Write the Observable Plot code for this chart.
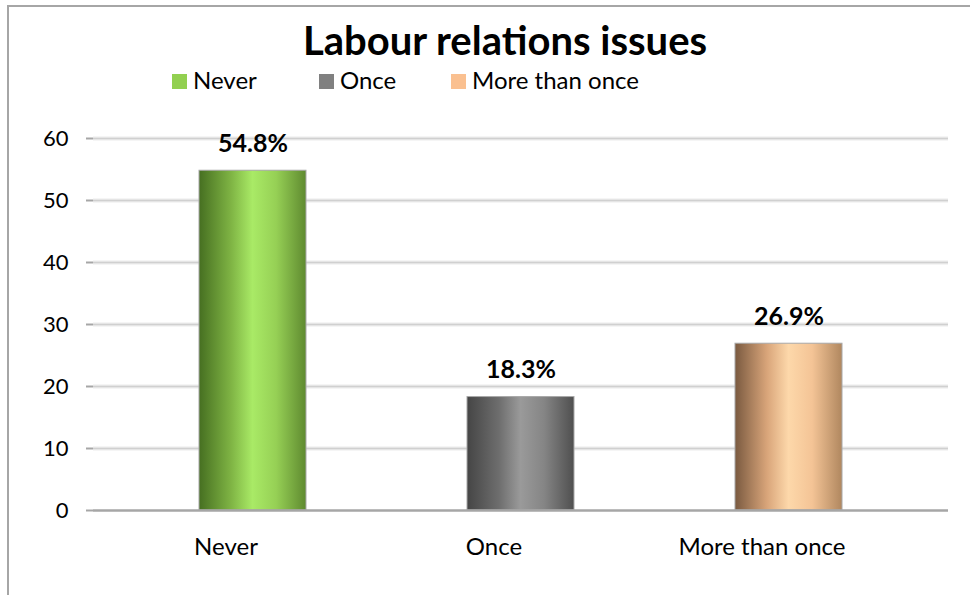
<!DOCTYPE html>
<html>
<head>
<meta charset="utf-8">
<script src="https://cdn.jsdelivr.net/npm/d3@7"></script>
<script src="https://cdn.jsdelivr.net/npm/@observablehq/plot@0.6"></script>
<style>
  html, body { margin: 0; padding: 0; background: #fff; }
  #wrap { position: relative; width: 970px; height: 595px; overflow: hidden; font-family: Lato, "Open Sans", sans-serif; }
  #frame { position: absolute; left: 7px; top: 5px; width: 1000px; height: 700px; border-left: 2px solid #a6a6a6; border-top: 2px solid #a6a6a6; box-sizing: border-box; }
  #title { position: absolute; left: 0; width: 1010px; top: 16px; text-align: center; font-weight: bold; font-size: 40px; line-height: 48px; color: #000; }
  #legend { position: absolute; left: 0; top: 0; font-size: 24px; color: #000; }
  #legend .sw { position: absolute; top: 74px; width: 15px; height: 15px; }
  #legend .tx { position: absolute; top: 65px; line-height: 29px; white-space: nowrap; }
  #chart { position: absolute; left: 0; top: 0; }
</style>
</head>
<body>
<div id="wrap">
  <div id="frame"></div>
  <div id="chart"></div>
  <div id="title"></div>
  <div id="legend"></div>
</div>
<script>
const titleText = "Labour relations issues";
const categories = ["Never", "Once", "More than once"];
const values = [54.8, 18.3, 26.9];
const valueLabels = ["54.8%", "18.3%", "26.9%"];
const yTicks = [0, 10, 20, 30, 40, 50, 60];
const legendColors = ["#92d050", "#808080", "#fac090"];
const gradientStops = [
  ["#466f21", "#7fb444", "#a9ea66", "#96d055", "#5f8a30"],
  ["#454545", "#6e6e6e", "#9a9a9a", "#858585", "#4f4f4f"],
  ["#7a5a40", "#d9a57a", "#fdd8aa", "#f4c496", "#b0875f"]
];

const data = categories.map((c, i) => ({category: c, value: values[i], label: valueLabels[i], idx: i}));

document.getElementById("title").textContent = titleText;
const legend = document.getElementById("legend");
const legendLeft = [172, 319, 451];
categories.forEach((c, i) => {
  const sw = document.createElement("div");
  sw.className = "sw";
  sw.style.left = legendLeft[i] + "px";
  sw.style.background = legendColors[i];
  const tx = document.createElement("div");
  tx.className = "tx";
  tx.style.left = (legendLeft[i] + 21) + "px";
  tx.textContent = c;
  legend.appendChild(sw); legend.appendChild(tx);
});

const defs = () => {
  const ns = "http://www.w3.org/2000/svg";
  const d = document.createElementNS(ns, "defs");
  gradientStops.forEach((stops, i) => {
    const g = document.createElementNS(ns, "linearGradient");
    g.setAttribute("id", "grad" + i);
    g.setAttribute("x1", "0"); g.setAttribute("x2", "1");
    g.setAttribute("y1", "0"); g.setAttribute("y2", "0");
    const offs = [0, 0.3, 0.5, 0.72, 1];
    stops.forEach((col, k) => {
      const s = document.createElementNS(ns, "stop");
      s.setAttribute("offset", offs[k]);
      s.setAttribute("stop-color", col);
      g.appendChild(s);
    });
    d.appendChild(g);
  });
  return d;
};

const barMarks = data.map((d, i) =>
  Plot.barY([d], {x: "category", y: "value", fill: `url(#grad${i})`, stroke: "#a8a8a8", strokeWidth: 1})
);

const chart = Plot.plot({
  width: 970,
  height: 595,
  marginTop: 138,
  marginBottom: 85,
  marginLeft: 93,
  marginRight: 22,
  style: {fontFamily: "Lato, 'Open Sans', sans-serif", fontSize: "22px", color: "#000", background: "transparent", overflow: "visible"},
  x: {domain: categories, range: [118, 924], paddingInner: 0.6, paddingOuter: 0.3, label: null},
  y: {domain: [0, 60], label: null},
  marks: [
    defs,
    Plot.ruleY(yTicks.filter(t => t > 0), {stroke: "#ececec", strokeWidth: 4}),
    Plot.ruleY(yTicks.filter(t => t > 0), {stroke: "#d0d0d0", strokeWidth: 1.5}),
    ...barMarks,
    Plot.ruleY([0], {stroke: "#a6a6a6", strokeWidth: 2.5}),
    Plot.ruleX([0], {frameAnchor: "left", y1: 0, y2: 60, stroke: "#a6a6a6", strokeWidth: 2.5}),
    Plot.axisY({ticks: yTicks, tickSize: 7, tickPadding: 18, stroke: "#a6a6a6", strokeWidth: 2, fontSize: 22, fill: "#000"}),
    Plot.axisX({tickSize: 0, tickPadding: 27, dx: -27, fontSize: 24, fill: "#000"}),
    Plot.text(data, {x: "category", y: "value", text: "label", dy: -27, fontWeight: "bold", fontSize: 25, fill: "#000"})
  ]
});
document.getElementById("chart").appendChild(chart);
</script>
</body>
</html>
